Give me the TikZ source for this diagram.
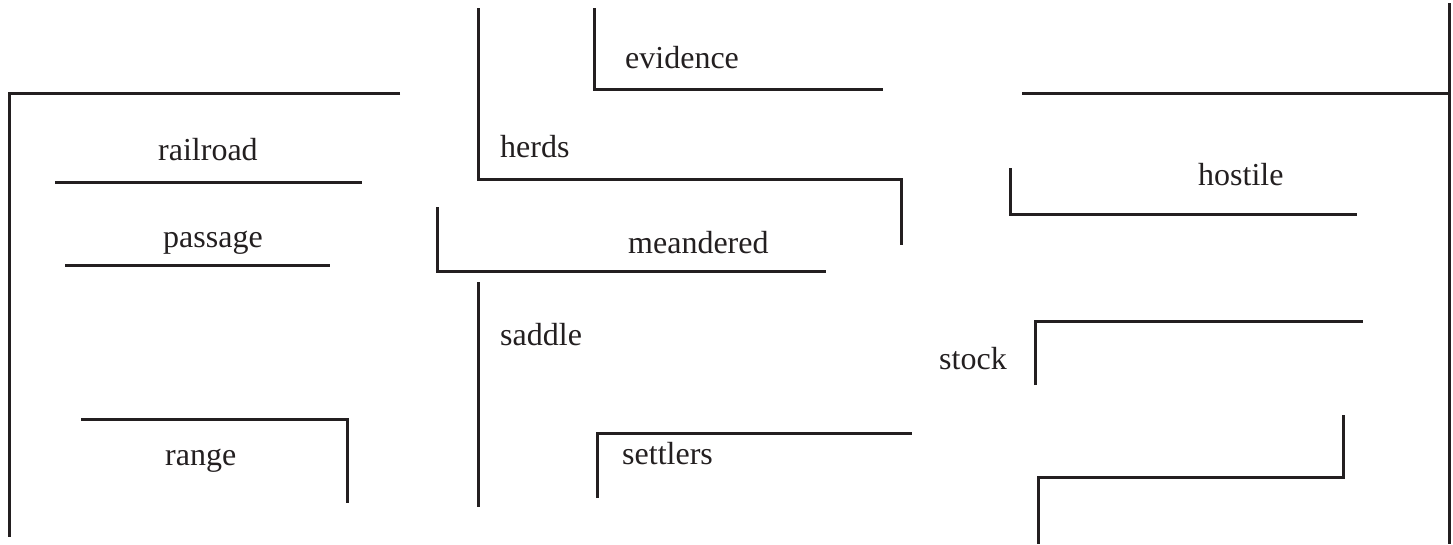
\documentclass[tikz,border=0pt]{standalone}
\usepackage{fontspec}
\setmainfont{Liberation Serif}
\definecolor{ink}{HTML}{231F20}
\begin{document}
\begin{tikzpicture}[x=1pt,y=-1pt,
  wall/.style={draw=ink,line width=3pt,line join=miter},
  word/.style={anchor=base west,inner sep=0pt,text=ink,font=\fontsize{32}{38}\selectfont}]
\useasboundingbox (0,0) rectangle (1453,544);
% texts
\node[word] (railroad) at (158,160) {railroad};
\node[word] (passage) at (163,247) {passage};
\node[word] (range) at (165,465) {range};
\node[word] (herds) at (500,157) {herds};
\node[word] (evidence) at (625,68) {evidence};
\node[word] (meandered) at (628,253) {meandered};
\node[word] (saddle) at (500,345) {saddle};
\node[word] (settlers) at (622,464) {settlers};
\node[word] (hostile) at (1198,185) {hostile};
\node[word] (stock) at (939,369) {stock};
% walls
\draw[wall] (400,93) -- (9,93) -- (9,537);
\draw[wall] (55,182) -- (362,182);
\draw[wall] (65,265) -- (330,265);
\draw[wall] (81,419) -- (347,419) -- (347,503);
\draw[wall] (478,8) -- (478,179) -- (901,179) -- (901,245);
\draw[wall] (594,8) -- (594,89) -- (883,89);
\draw[wall] (437,207) -- (437,271) -- (826,271);
\draw[wall] (478,282) -- (478,507);
\draw[wall] (597,498) -- (597,433) -- (912,433);
\draw[wall] (1022,93) -- (1449,93);
\draw[wall] (1449,3) -- (1449,544);
\draw[wall] (1010,168) -- (1010,214) -- (1357,214);
\draw[wall] (1035,385) -- (1035,321) -- (1363,321);
\draw[wall] (1343,415) -- (1343,477) -- (1038,477) -- (1038,544);
\end{tikzpicture}
\end{document}
